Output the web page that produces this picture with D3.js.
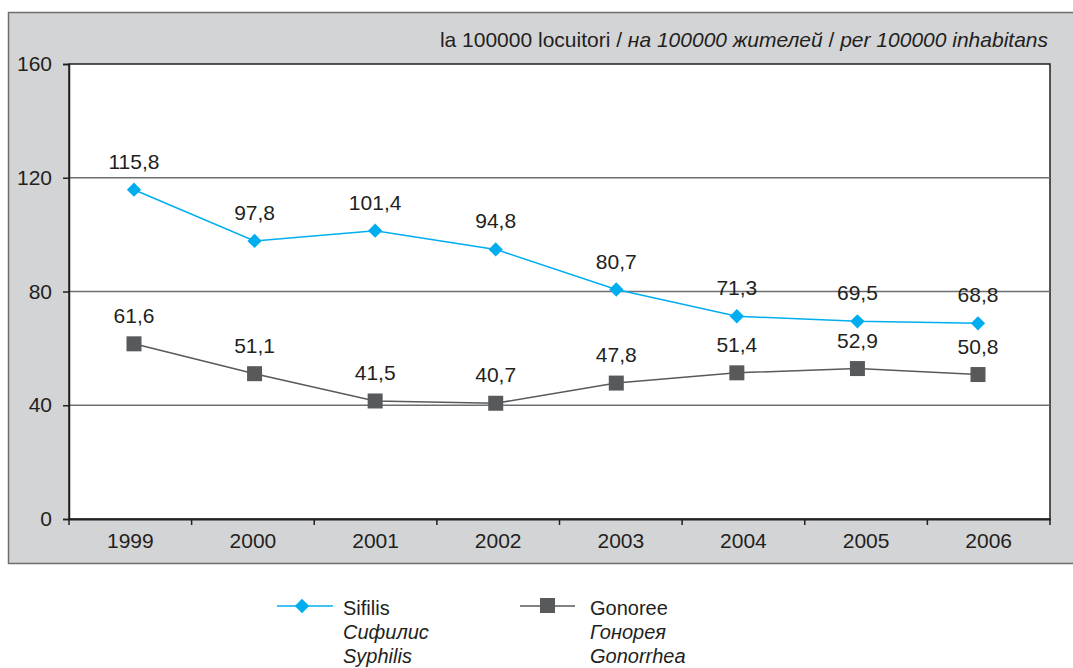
<!DOCTYPE html>
<head>
<meta charset="utf-8">
<script src="https://d3js.org/d3.v7.min.js"></script>
<style>
  body { margin: 0; background: #fff; font-family: "Liberation Sans", Arial, sans-serif; }
  text { fill: #231f20; }
</style>
</head>
<body>
<div id="my_dataviz"></div>
<script>
// data
var years = ["1999", "2000", "2001", "2002", "2003", "2004", "2005", "2006"];
var sifilis = [115.8, 97.8, 101.4, 94.8, 80.7, 71.3, 69.5, 68.8];
var gonoree = [61.6, 51.1, 41.5, 40.7, 47.8, 51.4, 52.9, 50.8];
var yTicks = [0, 40, 80, 120, 160];

var W = 1073, H = 668;
var svg = d3.select("#my_dataviz").append("svg")
    .attr("width", W).attr("height", H);

// grey frame
svg.append("rect")
    .attr("x", 8.5).attr("y", 12.5)
    .attr("width", 1070).attr("height", 551)
    .attr("fill", "#d3d4d6").attr("stroke", "#6d6e70").attr("stroke-width", 1.5);

svg.append("text")
    .attr("x", 1048).attr("y", 47)
    .attr("text-anchor", "end")
    .style("font-size", "21px")
    .html('la 100000 locuitori / <tspan font-style="italic">на 100000 жителей</tspan> / <tspan font-style="italic">per 100000 inhabitans</tspan>');

var pLeft = 69, pRight = 1050, pTop = 64, pBottom = 519;

var x = d3.scaleBand().domain(years).range([pLeft, pRight]);
// markers sit slightly inside the band centres in the original
var xp = d3.scalePoint().domain(years).range([134, 978]);
var y = d3.scaleLinear().domain([0, 160]).range([pBottom, pTop]);

svg.append("rect")
    .attr("x", pLeft).attr("y", pTop)
    .attr("width", pRight - pLeft).attr("height", pBottom - pTop)
    .attr("fill", "#fff").attr("stroke", "#231f20").attr("stroke-width", 1.5);

// grid
svg.append("g").selectAll("line")
    .data(yTicks.filter(function (d) { return d > 0 && d < 160; }))
    .enter().append("line")
    .attr("x1", pLeft).attr("x2", pRight)
    .attr("y1", function (d) { return y(d); }).attr("y2", function (d) { return y(d); })
    .attr("stroke", "#6d6e70").attr("stroke-width", 1.5);

// axes
var yAxis = svg.append("g")
    .attr("transform", "translate(" + pLeft + ",0)")
    .call(d3.axisLeft(y).tickValues(yTicks).tickSize(6).tickPadding(11));
yAxis.select(".domain").attr("stroke", "#231f20").attr("stroke-width", 1.5);
yAxis.selectAll("line").attr("stroke", "#231f20").attr("stroke-width", 1.5);
yAxis.selectAll("text").style("font-size", "21px").attr("font-family", "Liberation Sans, Arial, sans-serif").attr("fill", "#231f20");

var xAxis = svg.append("g")
    .attr("transform", "translate(0," + pBottom + ")")
    .call(d3.axisBottom(x).tickSize(0).tickPadding(14));
xAxis.select(".domain").attr("stroke", "#231f20").attr("stroke-width", 2);
xAxis.selectAll("text").style("font-size", "21px").attr("font-family", "Liberation Sans, Arial, sans-serif").attr("fill", "#231f20");

// category boundary ticks
var bounds = years.map(function (d) { return x(d); }).concat([pRight]);
svg.append("g").selectAll("line")
    .data(bounds).enter().append("line")
    .attr("x1", function (d) { return d; }).attr("x2", function (d) { return d; })
    .attr("y1", pBottom).attr("y2", pBottom + 6)
    .attr("stroke", "#231f20").attr("stroke-width", 1.5);

function cx(i) { return xp(years[i]); }

var line = d3.line()
    .x(function (d, i) { return cx(i); })
    .y(function (d) { return y(d); });

var blue = "#00aeef", grey = "#58595b";

// Gonoree
svg.append("path").datum(gonoree)
    .attr("d", line).attr("fill", "none").attr("stroke", grey).attr("stroke-width", 1.5);
svg.append("g").selectAll("rect")
    .data(gonoree).enter().append("rect")
    .attr("x", function (d, i) { return cx(i) - 7.5; })
    .attr("y", function (d) { return y(d) - 7.5; })
    .attr("width", 15).attr("height", 15)
    .attr("fill", grey);

// Sifilis
svg.append("path").datum(sifilis)
    .attr("d", line).attr("fill", "none").attr("stroke", blue).attr("stroke-width", 1.5);
var diamond = d3.symbol().type(d3.symbolDiamond2).size(130);
svg.append("g").selectAll("path")
    .data(sifilis).enter().append("path")
    .attr("d", diamond)
    .attr("transform", function (d, i) { return "translate(" + cx(i) + "," + y(d) + ")"; })
    .attr("fill", blue);

// value labels
function fmt(v) { return v.toFixed(1).replace(".", ","); }
[sifilis, gonoree].forEach(function (s) {
    svg.append("g").selectAll("text")
        .data(s).enter().append("text")
        .attr("x", function (d, i) { return cx(i); })
        .attr("y", function (d) { return y(d) - 21; })
        .attr("text-anchor", "middle")
        .style("font-size", "21px")
        .text(fmt);
});

// legend
var lg = svg.append("g");
lg.append("line").attr("x1", 277).attr("x2", 333).attr("y1", 606).attr("y2", 606)
    .attr("stroke", blue).attr("stroke-width", 1.5);
lg.append("path").attr("d", diamond)
    .attr("transform", "translate(302,606)").attr("fill", blue);
lg.append("line").attr("x1", 520).attr("x2", 575).attr("y1", 606).attr("y2", 606)
    .attr("stroke", grey).attr("stroke-width", 1.5);
lg.append("rect").attr("x", 540).attr("y", 598).attr("width", 15).attr("height", 15).attr("fill", grey);

var legendText = [
    { x: 343, lines: ["Sifilis", "Сифилис", "Syphilis"] },
    { x: 590, lines: ["Gonoree", "Гонорея", "Gonorrhea"] }
];
legendText.forEach(function (t) {
    t.lines.forEach(function (s, j) {
        lg.append("text")
            .attr("x", t.x).attr("y", 615 + j * 24)
            .style("font-size", "20px")
            .style("font-style", j > 0 ? "italic" : "normal")
            .text(s);
    });
});
</script>
</body>
